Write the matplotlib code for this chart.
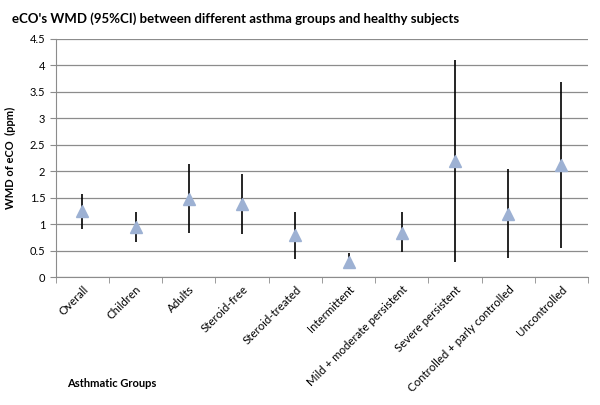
import matplotlib
matplotlib.use('Agg')
import matplotlib.pyplot as plt
import numpy as np

groups = ['Overall', 'Children', 'Adults', 'Steroid-free', 'Steroid-treated',
          'Intermittent', 'Mild + moderate persistent', 'Severe persistent',
          'Controlled + parly controlled', 'Uncontrolled']
wmd = [1.24, 0.94, 1.47, 1.38, 0.79, 0.29, 0.84, 2.19, 1.20, 2.12]
ci_low = [0.91, 0.66, 0.84, 0.81, 0.34, 0.15, 0.47, 0.28, 0.36, 0.55]
ci_high = [1.57, 1.23, 2.14, 1.95, 1.22, 0.45, 1.22, 4.10, 2.04, 3.68]

plt.rcParams['font.family'] = ['Lato', 'DejaVu Sans']

fig = plt.figure(figsize=(6, 4.05), dpi=100)
ax = fig.add_axes([0.093, 0.316, 0.887, 0.588])

x = np.arange(len(groups))
wmd = np.array(wmd)
yerr = [wmd - np.array(ci_low), np.array(ci_high) - wmd]
ax.errorbar(x, wmd, yerr=yerr, fmt='none', ecolor='black', elinewidth=1.2, capsize=0, zorder=3)
ax.plot(x, wmd, linestyle='none', marker='^', markersize=9, color='#9DB1D3', zorder=4)

ax.set_xlim(-0.5, len(groups) - 0.5)
ax.set_ylim(0, 4.5)
ax.set_yticks(np.arange(0, 4.51, 0.5))
ax.set_yticklabels(['0', '0.5', '1', '1.5', '2', '2.5', '3', '3.5', '4', '4.5'])
ax.yaxis.grid(True, color='#8C8C8C', linewidth=0.9)
ax.set_axisbelow(True)

ax.set_xticks(x)
ax.set_xticklabels(groups, rotation=45, ha='right', rotation_mode='anchor', fontsize=8.3)
ax.set_xticks(np.arange(-0.5, len(groups), 1), minor=True)
ax.tick_params(axis='x', which='major', length=0, pad=5)
ax.tick_params(axis='x', which='minor', length=4, color='#8C8C8C', direction='out')
ax.tick_params(axis='y', length=4, color='#8C8C8C', labelsize=8)

for side in ['top', 'right']:
    ax.spines[side].set_visible(False)
for side in ['left', 'bottom']:
    ax.spines[side].set_color('#8C8C8C')

ax.set_ylabel('WMD of eCO  (ppm)', fontsize=8, fontweight='bold', labelpad=10)
fig.text(0.112, 0.045, 'Asthmatic Groups', fontsize=8, fontweight='bold')
fig.text(0.02, 0.955, "eCO's WMD (95%CI) between different asthma groups and healthy subjects",
         fontsize=9.5, fontweight='bold', va='center')

fig.savefig('out.png', dpi=100)
